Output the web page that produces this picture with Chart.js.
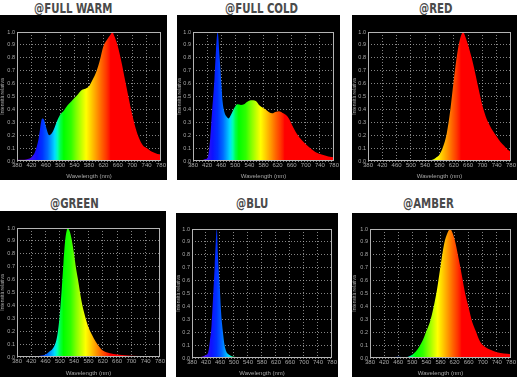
<!DOCTYPE html>
<html><head><meta charset="utf-8">
<script src="https://cdn.jsdelivr.net/npm/chart.js@4"></script>
<style>
html,body{margin:0;padding:0;background:#fff}
body{width:519px;height:380px;overflow:hidden;position:relative;font-family:"Liberation Sans",Arial,sans-serif}
.title{position:absolute;font-family:"DejaVu Sans Condensed","DejaVu Sans",sans-serif;font-weight:bold;font-stretch:condensed;font-size:14.5px;line-height:1;color:#4a4a4a;transform:translateX(-50%) scaleX(0.78);transform-origin:0 0;white-space:nowrap}
.box{position:absolute;background:#000}
canvas{display:block}
</style></head><body>
<script>
// ---- data ----
const titles = ["@FULL WARM", "@FULL COLD", "@RED", "@GREEN", "@BLU", "@AMBER"];
const xTicks = [380, 420, 460, 500, 540, 580, 620, 660, 700, 740, 780];
const yTicks = [0.0, 0.1, 0.2, 0.3, 0.4, 0.5, 0.6, 0.7, 0.8, 0.9, 1.0];

const wlWarm = [380,400,410,420,430,440,450,455,460,470,480,490,500,510,520,530,540,550,560,570,580,590,600,610,620,630,640,645,650,660,670,680,690,700,710,720,730,740,750,760,770,780];
const warm   = [0.01,0.01,0.015,0.03,0.07,0.17,0.33,0.32,0.27,0.20,0.23,0.30,0.36,0.39,0.43,0.46,0.49,0.52,0.55,0.56,0.58,0.63,0.69,0.78,0.89,0.94,0.98,1.0,0.97,0.89,0.77,0.63,0.49,0.36,0.25,0.17,0.12,0.10,0.08,0.065,0.055,0.05];

const wlCold = [380,400,410,416,422,429,434,441,445,450,455,460,464,469,475,481,488,497,506,516,525,534,544,558,569,586,595,605,614,624,633,642,652,661,675,689,708,727,745,764,780];
const cold   = [0.005,0.005,0.01,0.015,0.03,0.18,0.38,0.64,0.85,1.0,0.82,0.62,0.46,0.38,0.345,0.33,0.36,0.41,0.44,0.435,0.44,0.46,0.47,0.465,0.43,0.40,0.38,0.37,0.38,0.385,0.375,0.36,0.33,0.28,0.21,0.16,0.11,0.07,0.05,0.035,0.03];

const wlRed = [380,500,540,560,570,580,590,600,610,620,630,640,647,650,660,670,680,690,700,710,720,730,740,750,760,770,780];
const red   = [0,0,0.003,0.01,0.025,0.05,0.11,0.21,0.39,0.63,0.84,0.97,1.0,0.98,0.90,0.80,0.68,0.55,0.43,0.34,0.28,0.23,0.19,0.15,0.12,0.09,0.07];

const wlGreen = [380,420,440,460,470,480,490,495,500,505,510,515,520,522,525,530,535,540,545,550,560,570,580,590,600,610,620,640,660,700,740,780];
const green   = [0,0.003,0.008,0.02,0.04,0.065,0.13,0.21,0.34,0.52,0.73,0.91,0.99,1.0,0.99,0.95,0.88,0.79,0.69,0.61,0.44,0.32,0.23,0.17,0.12,0.08,0.05,0.03,0.02,0.01,0.006,0.004];

const wlBlu = [380,408,417,426,431,436,440,445,451,454,459,463,468,473,477,486,500,520,540,780];
const blu   = [0.003,0.01,0.02,0.04,0.13,0.26,0.46,0.72,1.0,0.80,0.57,0.36,0.21,0.10,0.057,0.026,0.01,0.004,0,0];

const wlAmber = [380,440,460,480,500,510,520,530,540,550,560,570,580,590,600,608,610,620,630,640,650,660,670,680,690,700,720,740,760,780];
const amber   = [0.003,0.005,0.01,0.005,0.025,0.05,0.09,0.14,0.21,0.28,0.39,0.53,0.71,0.88,0.97,1.0,0.995,0.92,0.79,0.65,0.50,0.39,0.28,0.21,0.14,0.10,0.065,0.045,0.035,0.03];

const seriesWl = [wlWarm, wlCold, wlRed, wlGreen, wlBlu, wlAmber];
const seriesVal = [warm, cold, red, green, blu, amber];

// ---- styling ----
const specWl  = [380,400,420,435,450,465,475,485,493,500,510,530,545,560,572,585,600,615,628,636,640,780];
const specCol = ['#7800a8','#6a00c8','#3a10ee','#1010ff','#0030ff','#0068ff','#00a0ff','#00dcff','#00ffb4','#00ff50','#00ff00','#30ff00','#80ff00','#c8ff00','#ffff00','#ffd200','#ff9c00','#ff6400','#ff3800','#ff1800','#ff0000','#ff0000'];

// layout: title center x, title top, box [x,y,w,h], plot insets [left(yAxisW), top, right, bottom(xAxisH)]
const layouts = [
  {tx:73.5, ty:1,   box:[0,15,167,165],   ins:[17,17,6,19]},
  {tx:261,  ty:1,   box:[177,15,163,165], ins:[16,17,4,19]},
  {tx:435.5,ty:1,   box:[352,15,165,165], ins:[16,17,5,19]},
  {tx:74,   ty:196, box:[0,211,166,166],  ins:[17,17,5,20]},
  {tx:252,  ty:196, box:[176,213,162,164],ins:[16,16,2,19]},
  {tx:428.5,ty:196, box:[352,213,165,164],ins:[18,16,5,19]}
];

Chart.defaults.font.family = '"Liberation Sans", Arial, sans-serif';

const framePlugin = {
  id: 'frame',
  afterDatasetsDraw(chart) {
    const a = chart.chartArea, c = chart.ctx;
    c.save();
    c.strokeStyle = '#b4b4b4';
    c.lineWidth = 1;
    c.strokeRect(Math.round(a.left) + 0.5, Math.round(a.top) + 0.5, Math.round(a.right - a.left) - 1, Math.round(a.bottom - a.top) - 1);
    c.restore();
  }
};

titles.forEach((t, i) => {
  const L = layouts[i];
  const td = document.createElement('div');
  td.className = 'title';
  td.textContent = t;
  td.style.left = L.tx + 'px';
  td.style.top = L.ty + 'px';
  document.body.appendChild(td);
  // center after condensing
  const w = td.getBoundingClientRect().width;
  td.style.transform = 'scaleX(0.78)';
  td.style.left = (L.tx - w / 2) + 'px';

  const bd = document.createElement('div');
  bd.className = 'box';
  bd.style.left = L.box[0] + 'px';
  bd.style.top = L.box[1] + 'px';
  bd.style.width = L.box[2] + 'px';
  bd.style.height = L.box[3] + 'px';
  const cv = document.createElement('canvas');
  cv.width = L.box[2]; cv.height = L.box[3];
  cv.style.width = L.box[2] + 'px'; cv.style.height = L.box[3] + 'px';
  bd.appendChild(cv);
  document.body.appendChild(bd);

  const wl = seriesWl[i], vals = seriesVal[i];
  new Chart(cv, {
    type: 'line',
    data: {
      datasets: [{
        data: wl.map((w, k) => ({x: w, y: vals[k]})),
        fill: 'origin',
        borderColor: 'rgba(0,0,0,0)',
        borderWidth: 0,
        pointRadius: 0,
        cubicInterpolationMode: 'monotone',
        backgroundColor: (ctx) => {
          const ch = ctx.chart;
          if (!ch.chartArea || !ch.scales.x) return '#f00';
          const xs = ch.scales.x;
          const x0 = xs.getPixelForValue(xTicks[0]);
          const x1 = xs.getPixelForValue(xTicks[xTicks.length - 1]);
          const g = ch.ctx.createLinearGradient(x0, 0, x1, 0);
          specWl.forEach((w, k) => g.addColorStop((w - 380) / 400, specCol[k]));
          return g;
        }
      }]
    },
    options: {
      responsive: false,
      animation: false,
      devicePixelRatio: 1,
      layout: {padding: {left: 0, top: L.ins[1], right: L.ins[2], bottom: 0}},
      plugins: {legend: {display: false}, tooltip: {enabled: false}},
      scales: {
        x: {
          type: 'linear',
          min: xTicks[0], max: xTicks[xTicks.length - 1],
          afterFit: (s) => { s.height = L.ins[3]; },
          afterBuildTicks: (s) => { s.ticks = xTicks.map(v => ({value: v})); },
          ticks: {color: '#a8a8a8', font: {size: 6}, padding: 1, maxRotation: 0, autoSkip: false, callback: v => String(v)},
          grid: {color: 'rgba(190,190,190,0.7)', lineWidth: 1, drawTicks: false},
          border: {display: false, dash: [1, 2]},
          title: {display: true, text: 'Wavelength (nm)', color: '#a8a8a8', font: {size: 6}, padding: {top: 0, bottom: 0}}
        },
        y: {
          type: 'linear',
          min: 0, max: 1,
          afterFit: (s) => { s.width = L.ins[0]; },
          afterBuildTicks: (s) => { s.ticks = yTicks.map(v => ({value: v})); },
          ticks: {color: '#a8a8a8', font: {size: 5.5}, padding: 2, autoSkip: false, callback: v => Number(v).toFixed(1)},
          grid: {color: 'rgba(190,190,190,0.7)', lineWidth: 1, drawTicks: false},
          border: {display: false, dash: [1, 2]},
          title: {display: true, text: 'Intensità relativa', color: '#a8a8a8', font: {size: 5}, padding: {top: 0, bottom: 0}}
        }
      }
    },
    plugins: [framePlugin]
  });
});
</script>
</body></html>
